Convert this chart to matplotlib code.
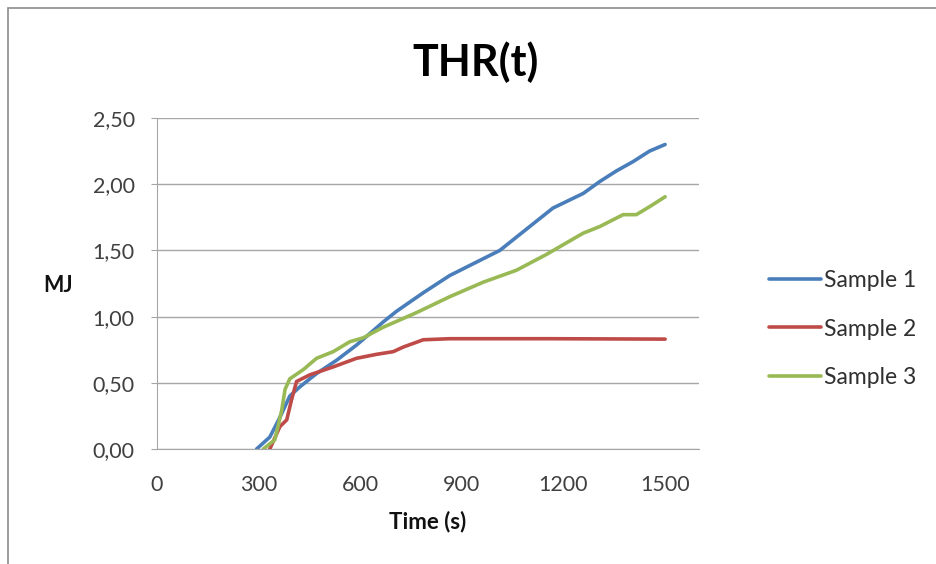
import matplotlib.pyplot as plt
from matplotlib.patches import Rectangle

plt.rcParams['font.family'] = ['Lato', 'DejaVu Sans']

# Sample 1 (blue)
t1 = [294, 333, 363, 392, 422, 471, 530, 589, 668, 707, 786, 864, 1012,
      1110, 1169, 1258, 1307, 1356, 1405, 1454, 1500]
thr1 = [0.0, 0.09, 0.24, 0.40, 0.47, 0.57, 0.67, 0.785, 0.96, 1.04, 1.18, 1.31, 1.50,
        1.70, 1.82, 1.93, 2.02, 2.10, 2.17, 2.25, 2.30]

# Sample 2 (red)
t2 = [333, 363, 383, 397, 412, 451, 520, 589, 648, 697, 727, 786, 864, 1160, 1500]
thr2 = [0.0, 0.17, 0.22, 0.37, 0.51, 0.56, 0.62, 0.685, 0.715, 0.735, 0.77, 0.825, 0.833, 0.833, 0.83]

# Sample 3 (green)
t3 = [314, 348, 368, 378, 392, 432, 471, 520, 569, 609, 668, 766, 864, 963,
      1061, 1150, 1258, 1307, 1376, 1415, 1454, 1500]
thr3 = [0.0, 0.07, 0.29, 0.45, 0.53, 0.60, 0.685, 0.735, 0.81, 0.84, 0.92, 1.03, 1.15, 1.26,
        1.35, 1.47, 1.63, 1.68, 1.77, 1.77, 1.83, 1.905]

labels = ['Sample 1', 'Sample 2', 'Sample 3']
colors = ['#4a7ebb', '#be4b48', '#98b954']
x_ticks = [0, 300, 600, 900, 1200, 1500]
y_ticks = [0.0, 0.5, 1.0, 1.5, 2.0, 2.5]

fig = plt.figure(figsize=(9.36, 5.64), dpi=100)
fig.patches.append(Rectangle((8 / 936, -0.1), 1.2, 1 - 8 / 564 + 0.1,
                             transform=fig.transFigure, fill=False,
                             edgecolor='#8c8c8c', linewidth=1.2))
ax = fig.add_axes([157 / 936, 1 - 449 / 564, (699 - 157) / 936, (449 - 118) / 564])

for t, v, lab, c in zip([t1, t2, t3], [thr1, thr2, thr3], labels, colors):
    ax.plot(t, v, color=c, linewidth=2.6, label=lab, solid_capstyle='round')

ax.set_xlim(0, 1600)
ax.set_ylim(0, 2.5)
ax.set_xticks(x_ticks)
ax.set_yticks(y_ticks)
ax.set_yticklabels([f'{v:.2f}'.replace('.', ',') for v in y_ticks])
ax.grid(axis='y', color='#a6a6a6', linewidth=1)
ax.set_axisbelow(True)
for s in ['top', 'right']:
    ax.spines[s].set_visible(False)
for s in ['left', 'bottom']:
    ax.spines[s].set_color('#a6a6a6')
ax.tick_params(axis='y', length=4, color='#a6a6a6', labelsize=15.5, labelcolor='#404040', pad=12)
ax.tick_params(axis='x', length=0, labelsize=15.5, labelcolor='#404040', pad=19)

ax.set_xlabel('Time (s)', fontsize=16, fontweight='bold', color='#111111', labelpad=11)
fig.text(58 / 936, 1 - 285 / 564, 'MJ', fontsize=15.5, fontweight='bold',
         ha='center', va='center', color='#111111')
fig.text(476 / 936, 1 - 62 / 564, 'THR(t)', fontsize=31, fontweight='bold',
         ha='center', va='center', color='#000000')

ax.legend(loc='center left', bbox_to_anchor=(748 / 936, 1 - 329 / 564),
          bbox_transform=fig.transFigure, frameon=False, fontsize=16.5,
          handlelength=2.3, handletextpad=0.1, labelspacing=1.18, labelcolor='#303030')

fig.savefig('out.png', dpi=100)
